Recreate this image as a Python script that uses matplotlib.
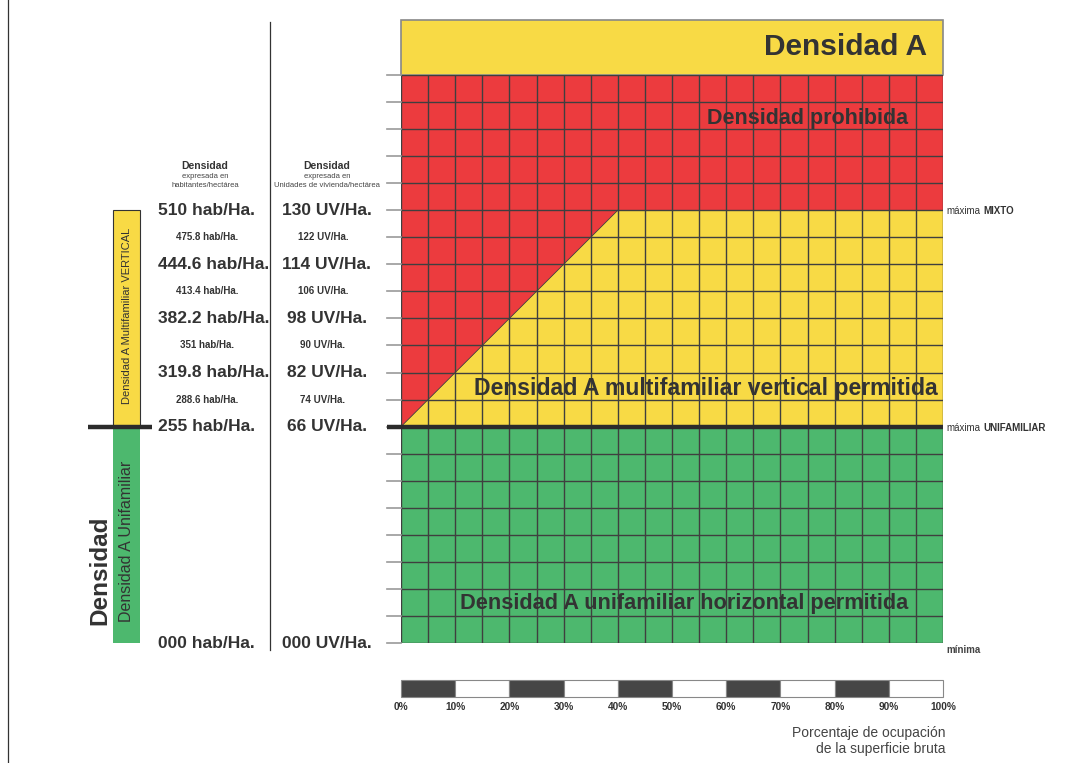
import matplotlib.pyplot as plt
from matplotlib.patches import Rectangle, Polygon

plt.rcParams['font.family'] = ['Liberation Sans', 'DejaVu Sans']

# --- data -------------------------------------------------------------
n_cols = 20            # columns of 5 %
n_rows = 21            # grid rows
green_top = 8          # max unifamiliar (row index)
mixto_top = 16         # max mixto (row index)
band_top = 23.03       # top of the "Densidad A" band
diag_end_pct = 40      # diagonal reaches the mixto line at 40 %

hab_rows = [0, 8, 9, 10, 11, 12, 13, 14, 15, 16]
hab_labels = ['000 hab/Ha.', '255 hab/Ha.', '288.6 hab/Ha.', '319.8 hab/Ha.', '351 hab/Ha.',
              '382.2 hab/Ha.', '413.4 hab/Ha.', '444.6 hab/Ha.', '475.8 hab/Ha.', '510 hab/Ha.']
uv_labels = ['000 UV/Ha.', '66 UV/Ha.', '74 UV/Ha.', '82 UV/Ha.', '90 UV/Ha.',
             '98 UV/Ha.', '106 UV/Ha.', '114 UV/Ha.', '122 UV/Ha.', '130 UV/Ha.']
major_rows = [0, 8, 10, 12, 14, 16]

pct_ticks = [0, 10, 20, 30, 40, 50, 60, 70, 80, 90, 100]
pct_labels = [f'{p}%' for p in pct_ticks]

YELLOW = '#f8da45'
RED = '#ec3b3e'
GREEN = '#4db86e'
DARK = '#333333'
GRID = '#3f3f3f'

# --- figure -------------------------------------------------------------
fig = plt.figure(figsize=(10.88, 7.63), dpi=100)
W, H = 1088, 763
ax = fig.add_axes([401 / W, (H - 643) / H, 542 / W, 568 / H])
ax.set_xlim(0, 100)
ax.set_ylim(0, n_rows)
ax.axis('off')

# px helpers (1 column = 5 %, 1 row)
px_x = 100 / 542
px_y = n_rows / 568

# zones
ax.add_patch(Rectangle((0, 0), 100, green_top, fc=GREEN, ec='none', zorder=1))
ax.add_patch(Rectangle((0, green_top), 100, mixto_top - green_top, fc=YELLOW, ec='none', zorder=1))
ax.add_patch(Rectangle((0, mixto_top), 100, n_rows - mixto_top, fc=RED, ec='none', zorder=1))
ax.add_patch(Polygon([(0, green_top), (diag_end_pct, mixto_top), (0, mixto_top)],
                     closed=True, fc=RED, ec='none', zorder=1))
ax.plot([0, diag_end_pct], [green_top, mixto_top], color=GRID, lw=0.6, zorder=2)
ax.add_patch(Rectangle((0, n_rows), 100, band_top - n_rows, fc=YELLOW, ec='#888888',
                       lw=1.2, zorder=1, clip_on=False))

# grid
for c in range(n_cols + 1):
    ax.plot([c * 5, c * 5], [0, n_rows], color=GRID, lw=1.0, zorder=3)
for r in range(n_rows + 1):
    ax.plot([0, 100], [r, r], color=GRID, lw=1.0, zorder=3)
    ax.plot([-14 * px_x, 0], [r, r], color='#999999', lw=1.2, zorder=3, clip_on=False)
ax.plot([-14 * px_x, 100], [green_top, green_top], color='#2b2b2b', lw=3.2, zorder=4,
        clip_on=False, solid_capstyle='butt')

# zone labels
ax.text(97, 22.05, 'Densidad A', ha='right', va='center', fontsize=21.5,
        fontweight='bold', color=DARK, zorder=5)
ax.text(75, 19.4, 'Densidad prohibida', ha='center', va='center', fontsize=15.5,
        fontweight='bold', color=DARK, zorder=5)
ax.text(99, 9.4, 'Densidad A multifamiliar vertical permitida', ha='right', va='center',
        fontsize=16.6, fontweight='bold', color=DARK, zorder=5)
ax.text(93.5, 1.45, 'Densidad A unifamiliar horizontal permitida', ha='right', va='center',
        fontsize=15.7, fontweight='bold', color=DARK, zorder=5)

# right labels
for row, word in [(mixto_top, 'MIXTO'), (green_top, 'UNIFAMILIAR')]:
    t = ax.text(100 + 3 * px_x, row - 1 * px_y, 'máxima', ha='left', va='center',
                fontsize=7, color=DARK, clip_on=False)
    ax.annotate(word, xy=(1, 0.5), xycoords=t, xytext=(2.2, 0), textcoords='offset points',
                ha='left', va='center', fontsize=7, fontweight='bold', color=DARK)
ax.text(100 + 3 * px_x, -2 * px_y, 'mínima', ha='left', va='top', fontsize=7,
        fontweight='bold', color='#444444', clip_on=False)

# left value labels
for row, hab, uv in zip(hab_rows, hab_labels, uv_labels):
    y = row
    if row in major_rows:
        ax.text(-243 * px_x, y, hab, ha='left', va='center', fontsize=12.5,
                fontweight='bold', color=DARK, clip_on=False)
        ax.text(-74 * px_x, y, uv, ha='center', va='center', fontsize=12.5,
                fontweight='bold', color=DARK, clip_on=False)
    else:
        ax.text(-194 * px_x, y, hab, ha='center', va='center', fontsize=7,
                fontweight='bold', color=DARK, clip_on=False)
        ax.text(-78 * px_x, y, uv, ha='center', va='center', fontsize=7,
                fontweight='bold', color=DARK, clip_on=False)

# column headers
for xc, sub in [(-196, 'habitantes/hectárea'), (-74, 'Unidades de vivienda/hectárea')]:
    ax.text(xc * px_x, 17.65, 'Densidad', ha='center', va='center', fontsize=7.5,
            fontweight='bold', color=DARK, clip_on=False)
    ax.text(xc * px_x, 17.25, 'expresada en', ha='center', va='center', fontsize=5.5,
            color='#444444', clip_on=False)
    ax.text(xc * px_x, 16.93, sub, ha='center', va='center', fontsize=5.5,
            color='#444444', clip_on=False)

# separators
ax.plot([-131 * px_x, -131 * px_x], [-7 * px_y, n_rows + 53 * px_y], color='#333333',
        lw=0.9, clip_on=False)
ax.plot([-393 * px_x, -393 * px_x], [-120 * px_y, n_rows + 75 * px_y], color='#333333',
        lw=0.9, clip_on=False)

# left side bars
bx0, bw = -288 * px_x, 27 * px_x
ax.add_patch(Rectangle((bx0, green_top), bw, mixto_top - green_top, fc=YELLOW,
                       ec='#333333', lw=0.8, clip_on=False))
ax.add_patch(Rectangle((bx0, 0), bw, green_top, fc=GREEN, ec='none', clip_on=False))
ax.plot([-313 * px_x, -249 * px_x], [green_top, green_top], color='#2b2b2b', lw=3.2,
        clip_on=False, solid_capstyle='butt')
ax.text(bx0 + bw / 2, 12.1, 'Densidad A Multifamiliar VERTICAL', rotation=90, ha='center',
        va='center', fontsize=8, fontweight='medium', color=DARK, clip_on=False)
ax.text(bx0 + bw / 2, 3.75, 'Densidad A Unifamiliar', rotation=90, ha='center',
        va='center', fontsize=11.5, color=DARK, clip_on=False)
ax.text(-301 * px_x, 2.7, 'Densidad', rotation=90, ha='center', va='center',
        fontsize=17.5, fontweight='bold', color=DARK, clip_on=False)

# percentage scale bar
sb_y0, sb_h = -54 * px_y, 17 * px_y
for i in range(10):
    fc = '#464646' if i % 2 == 0 else 'white'
    ax.add_patch(Rectangle((pct_ticks[i], sb_y0), 10, sb_h, fc=fc, ec='#888888',
                           lw=0.8, clip_on=False))
for p, lab in zip(pct_ticks, pct_labels):
    ax.text(p, sb_y0 - 10 * px_y, lab, ha='center', va='center', fontsize=7.3,
            fontweight='bold', color=DARK, clip_on=False)
ax.text(100 + 2 * px_x, -90 * px_y, 'Porcentaje de ocupación', ha='right', va='center',
        fontsize=10, color='#444444', clip_on=False)
ax.text(100 + 2 * px_x, -106 * px_y, 'de la superficie bruta', ha='right', va='center',
        fontsize=10, color='#444444', clip_on=False)

fig.savefig('out.png', dpi=100, facecolor='white')
